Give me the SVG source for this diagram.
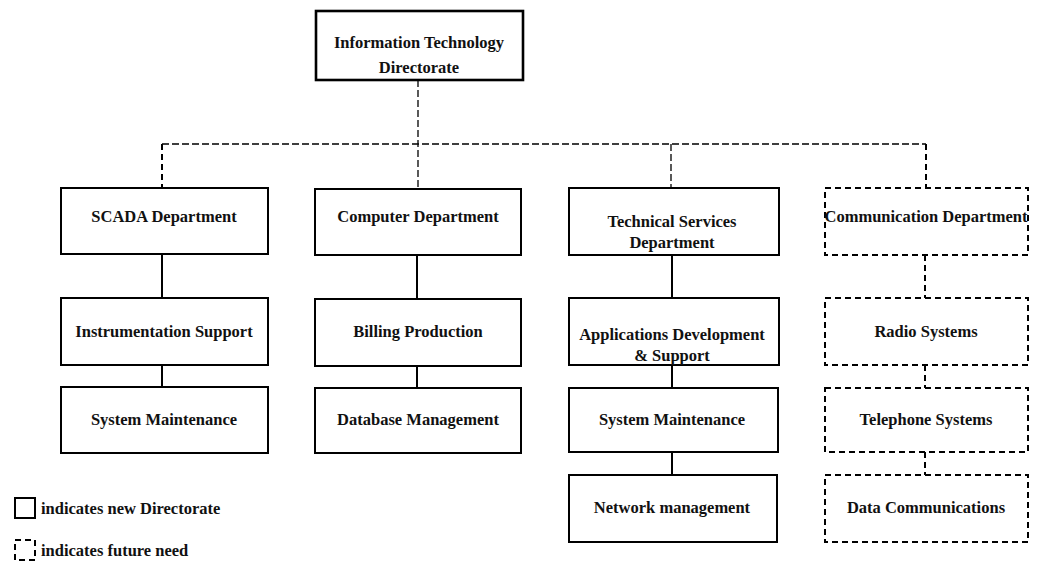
<svg xmlns="http://www.w3.org/2000/svg" width="1038" height="571" viewBox="0 0 1038 571">
<style>
.box{fill:#fff;stroke:#000;stroke-width:2}
.top{fill:#fff;stroke:#000;stroke-width:2.6}
.fut{fill:#fff;stroke:#000;stroke-width:2;stroke-dasharray:6 4}
.t{font-family:"Liberation Serif","Times New Roman",serif;font-weight:bold;font-size:16.5px;fill:#111;text-anchor:middle}
.lg{font-family:"Liberation Serif","Times New Roman",serif;font-weight:bold;font-size:16.5px;fill:#111}
.c{stroke:#000;stroke-width:2;fill:none}
.cd{stroke:#000;stroke-width:1.3;fill:none;stroke-dasharray:7 3}
.cf{stroke:#000;stroke-width:2;fill:none;stroke-dasharray:6 4}
</style>
<rect width="1038" height="571" fill="#fff"/>
<g id="connectors">
<path class="cd" d="M418 80 V189"/>
<path class="cd" d="M162 144 H926"/>
<path class="cf" d="M162 144 V188"/>
<path class="cd" d="M671 144 V188"/>
<path class="cf" d="M926 144 V188"/>
<path class="c" d="M162 254 V298"/>
<path class="c" d="M162 365 V387"/>
<path class="c" d="M417 255 V299"/>
<path class="c" d="M417 366 V388"/>
<path class="c" d="M672 255 V298"/>
<path class="c" d="M672 365 V388"/>
<path class="c" d="M672 452 V475"/>
<path class="cf" d="M925 255 V298"/>
<path class="cf" d="M925 365 V388"/>
<path class="cf" d="M925 452 V475"/>
</g>
<g id="it-directorate"><rect class="top" x="316" y="11" width="207" height="69"/><text class="t" x="419" y="48">Information Technology</text><text class="t" x="419" y="73">Directorate</text></g>
<g id="scada"><rect class="box" x="61" y="188" width="207" height="66"/><text class="t" x="164" y="222">SCADA Department</text></g>
<g id="instrumentation"><rect class="box" x="61" y="298" width="207" height="67"/><text class="t" x="164" y="337">Instrumentation Support</text></g>
<g id="sys-maint-1"><rect class="box" x="61" y="387" width="207" height="66"/><text class="t" x="164" y="425">System Maintenance</text></g>
<g id="computer"><rect class="box" x="315" y="189" width="206" height="66"/><text class="t" x="418" y="222">Computer Department</text></g>
<g id="billing"><rect class="box" x="315" y="299" width="206" height="67"/><text class="t" x="418" y="337">Billing Production</text></g>
<g id="database"><rect class="box" x="315" y="388" width="206" height="65"/><text class="t" x="418" y="425">Database Management</text></g>
<g id="technical"><rect class="box" x="569" y="188" width="210" height="67"/><text class="t" x="672" y="227">Technical Services</text><text class="t" x="672" y="248">Department</text></g>
<g id="applications"><rect class="box" x="569" y="298" width="210" height="67"/><text class="t" x="672" y="340">Applications Development</text><text class="t" x="672" y="361">&amp; Support</text></g>
<g id="sys-maint-2"><rect class="box" x="569" y="388" width="209" height="64"/><text class="t" x="672" y="425">System Maintenance</text></g>
<g id="network"><rect class="box" x="569" y="475" width="208" height="67"/><text class="t" x="672" y="513">Network management</text></g>
<g id="communication"><rect class="fut" x="825" y="188" width="203" height="67"/><text class="t" x="926" y="222">Communication Department</text></g>
<g id="radio"><rect class="fut" x="825" y="298" width="203" height="67"/><text class="t" x="926" y="337">Radio Systems</text></g>
<g id="telephone"><rect class="fut" x="825" y="388" width="203" height="64"/><text class="t" x="926" y="425">Telephone Systems</text></g>
<g id="datacomm"><rect class="fut" x="825" y="475" width="203" height="67"/><text class="t" x="926" y="513">Data Communications</text></g>
<g id="legend">
<rect class="box" x="15" y="498" width="20" height="20" stroke-width="2.5"/>
<text class="lg" x="41" y="514">indicates new Directorate</text>
<rect class="fut" x="15" y="540" width="20" height="20" stroke-dasharray="5 5"/>
<text class="lg" x="41" y="556">indicates future need</text>
</g>
</svg>
